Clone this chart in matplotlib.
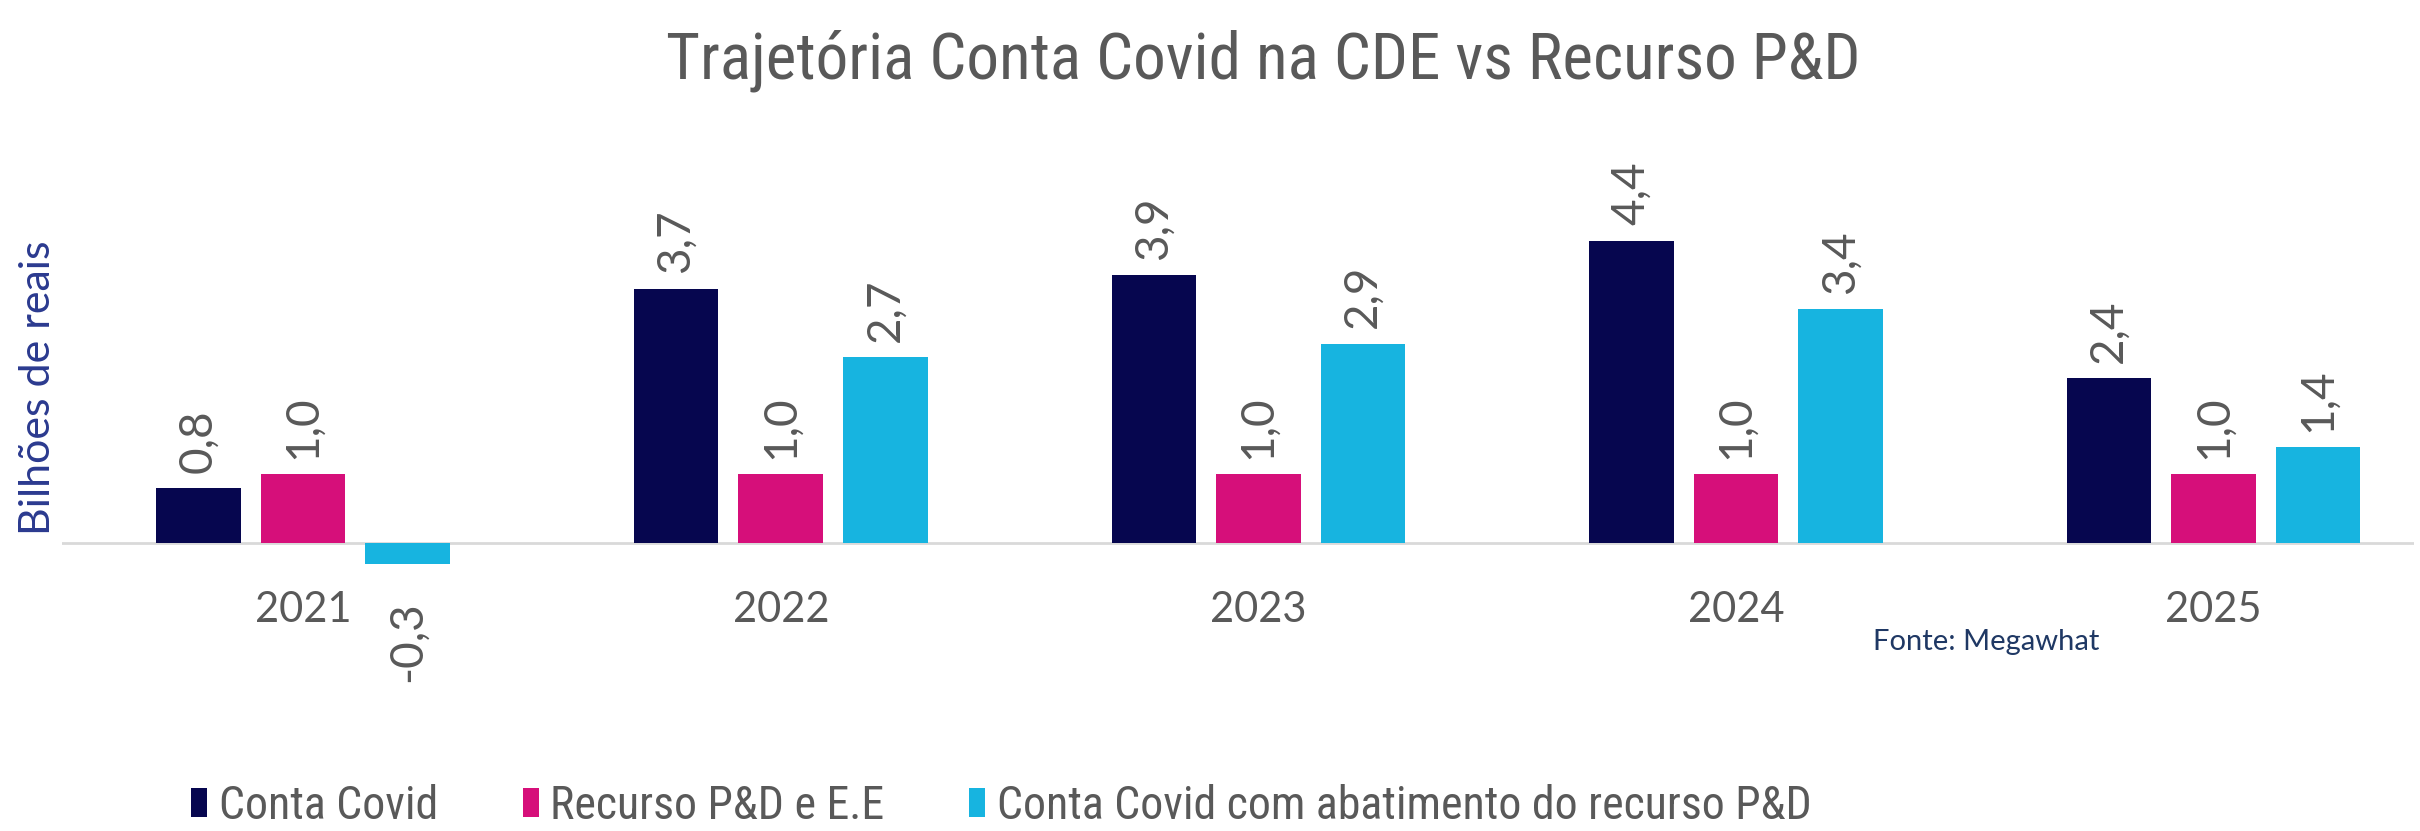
import matplotlib.pyplot as plt
import numpy as np

years = ['2021', '2022', '2023', '2024', '2025']
conta_covid = [0.8, 3.7, 3.9, 4.4, 2.4]
recurso_pd = [1.0, 1.0, 1.0, 1.0, 1.0]
conta_abatimento = [-0.3, 2.7, 2.9, 3.4, 1.4]

series_names = ['Conta Covid', 'Recurso P&D e E.E',
                'Conta Covid com abatimento do recurso P&D']
colors = ['#06064f', '#d60f7a', '#17b4e0']

narrow = ['Liberation Sans Narrow', 'Roboto Condensed', 'DejaVu Sans']
grey = '#595959'

fig = plt.figure(figsize=(24.2, 8.31), dpi=100)
ax = fig.add_axes([0.0256, 0.297, 0.972, 0.463])

x = np.arange(len(years))
step = 0.219
width = 0.177

for i, (vals, name, c) in enumerate(zip([conta_covid, recurso_pd, conta_abatimento],
                                         series_names, colors)):
    bars = ax.bar(x + (i - 1) * step, vals, width, color=c, label=name)
    for b, v in zip(bars, vals):
        txt = f'{v:.1f}'.replace('.', ',')
        xc = b.get_x() + b.get_width() / 2
        if v >= 0:
            ax.annotate(txt, (xc, v), xytext=(0, 11), textcoords='offset points',
                        rotation=90, ha='center', va='bottom', fontsize=33,
                        color=grey, family='Lato')
        else:
            ax.annotate(txt, (xc, v), xytext=(0, -27), textcoords='offset points',
                        rotation=90, ha='center', va='top', fontsize=33,
                        color=grey, family='Lato')

ax.axhline(0, color='#d9d9d9', lw=2, zorder=0)
ax.set_xlim(-0.505, 4.42)
ax.set_ylim(-0.6, 5.0)
for s in ax.spines.values():
    s.set_visible(False)
ax.set_yticks([])
ax.set_xticks(x)
ax.set_xticklabels(years, fontsize=30, color=grey, family='Lato')
ax.tick_params(axis='x', length=0, pad=5)

fig.text(0.0155, 0.533, 'Bilhões de reais', rotation=90, ha='center', va='center',
         fontsize=31, color='#2b3a8f', family='Lato')

fig.text(0.522, 0.927, 'Trajetória Conta Covid na CDE vs Recurso P&D',
         ha='center', va='center', fontsize=47, color=grey, family=narrow,
         fontstretch='condensed')

fig.text(0.774, 0.228, 'Fonte: Megawhat', ha='left', va='center',
         fontsize=21, color='#1f3864', family='Lato')

leg = fig.legend(loc='center left', bbox_to_anchor=(0.062, 0.03), ncol=3,
                 frameon=False, handlelength=0.35, handleheight=0.6,
                 handletextpad=0.25, columnspacing=1.85,
                 prop={'family': narrow, 'size': 33, 'stretch': 'condensed'})
for t in leg.get_texts():
    t.set_color(grey)

fig.savefig('out.png', dpi=100)
